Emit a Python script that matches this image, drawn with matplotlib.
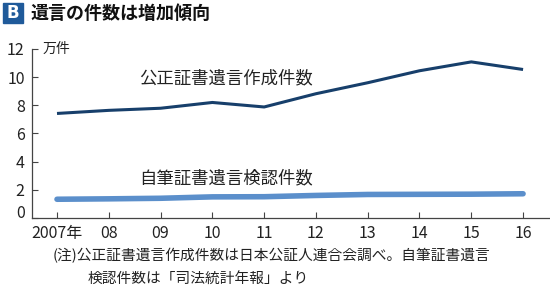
import matplotlib
matplotlib.use("Agg")
import matplotlib.pyplot as plt
from matplotlib.patches import Rectangle

plt.rcParams['font.family'] = ['Noto Sans CJK JP', 'DejaVu Sans']

# data (万件)
years = [2007, 2008, 2009, 2010, 2011, 2012, 2013, 2014, 2015, 2016]
year_labels = ['2007年', '08', '09', '10', '11', '12', '13', '14', '15', '16']
notarial = [7.42, 7.64, 7.79, 8.20, 7.88, 8.82, 9.60, 10.45, 11.08, 10.54]
holographic = [1.33, 1.36, 1.40, 1.50, 1.51, 1.60, 1.67, 1.68, 1.69, 1.72]
y_ticks = [0, 2, 4, 6, 8, 10, 12]

dark = '#173f6b'
light = '#5b8fcb'
txt = '#222222'

fig = plt.figure(figsize=(5.5, 2.93), dpi=100)
ax = fig.add_axes([0.0575, 0.256, 0.9425, 0.577])

ax.plot(years, notarial, color=dark, lw=2.2, solid_capstyle='butt')
ax.plot(years, holographic, color=light, lw=4.0, solid_capstyle='round')

ax.set_xlim(2006.51, 2016.52)
ax.set_ylim(0, 12)
ax.set_xticks(years)
ax.set_xticklabels(year_labels, fontsize=11.5, color=txt)
ax.set_yticks(y_ticks)
ax.set_yticklabels([str(v) for v in y_ticks], fontsize=11.5, color=txt)
ax.tick_params(axis='both', direction='in', length=4, width=0.8, color='#444444', pad=5)
ax.tick_params(axis='x', pad=5)
# the zero label sits a bit higher than its tick
ax.get_yticklabels()[0].set_verticalalignment('baseline')

for s in ['top', 'right']:
    ax.spines[s].set_visible(False)
for s in ['left', 'bottom']:
    ax.spines[s].set_color('#444444')
    ax.spines[s].set_linewidth(0.9)

# series labels
ax.text(2010.26, 9.9, '公正証書遺言作成件数', fontsize=12.5, color=txt, ha='center', va='center')
ax.text(2010.26, 2.8, '自筆証書遺言検認件数', fontsize=12.5, color=txt, ha='center', va='center')
ax.text(2006.73, 12, '万件', fontsize=10, color=txt, ha='left', va='center')

# title
fig.patches.append(Rectangle((3 / 550, 1 - 23 / 293), 20 / 550, 20 / 293,
                             transform=fig.transFigure, color='#1f5a9a'))
fig.text(13 / 550, 1 - 13 / 293, 'B', fontsize=12, color='white', weight='bold',
         ha='center', va='center', family='DejaVu Sans')
fig.text(30 / 550, 1 - 13 / 293, '遺言の件数は増加傾向', fontsize=13, color='#111111',
         weight='bold', ha='left', va='center')

# note
fig.text(53 / 550, 1 - 256 / 293, '(注)公正証書遺言作成件数は日本公証人連合会調べ。自筆証書遺言',
         fontsize=10.6, color=txt, ha='left', va='center')
fig.text(88 / 550, 1 - 279 / 293, '検認件数は「司法統計年報」より',
         fontsize=10.6, color=txt, ha='left', va='center')

fig.savefig('out.png', dpi=100)
